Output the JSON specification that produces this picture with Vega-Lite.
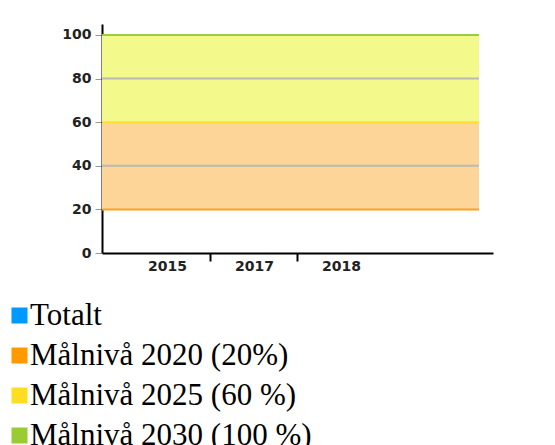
{
  "$schema": "https://vega.github.io/schema/vega-lite/v6.json",
  "width": 377,
  "height": 229,
  "autosize": {"type": "none"},
  "padding": {"left": 102, "top": 24, "right": 76, "bottom": 192},
  "background": "white",
  "config": {"view": {"stroke": null}, "font": "DejaVu Sans"},
  "datasets": {
    "maal": [
      {"serie": "Målnivå 2020 (20%)", "niva": 20, "ovre": 60},
      {"serie": "Målnivå 2025 (60 %)", "niva": 60, "ovre": 100},
      {"serie": "Målnivå 2030 (100 %)", "niva": 100, "ovre": null}
    ],
    "totalt": [
      {"ar": "2015", "serie": "Totalt", "varde": null},
      {"ar": "2017", "serie": "Totalt", "varde": null},
      {"ar": "2018", "serie": "Totalt", "varde": null}
    ]
  },
  "layer": [
    {
      "data": {"name": "maal"},
      "transform": [{"filter": "datum.ovre != null"}],
      "mark": {"type": "rect"},
      "encoding": {
        "y": {
          "field": "niva",
          "type": "quantitative",
          "scale": {"domain": [0, 105], "nice": false, "zero": true},
          "axis": {
            "values": [0, 20, 40, 60, 80, 100],
            "title": null,
            "domainColor": "black",
            "domainWidth": 2,
            "tickColor": "#999999",
            "tickSize": 7,
            "tickWidth": 1,
            "labelFont": "DejaVu Sans",
            "labelFontWeight": "bold",
            "labelFontSize": 14,
            "labelColor": "#222222",
            "labelPadding": 4,
            "grid": false
          }
        },
        "y2": {"field": "ovre"},
        "fill": {
          "field": "serie",
          "type": "nominal",
          "scale": {"domain": ["Målnivå 2020 (20%)", "Målnivå 2025 (60 %)"], "range": ["#fdd598", "#f4f98c"]},
          "legend": null
        }
      }
    },
    {
      "data": {"values": [{}]},
      "mark": {"type": "rule", "strokeWidth": 2, "color": "#b9b9b9"},
      "encoding": {"y": {"datum": 40, "type": "quantitative"}}
    },
    {
      "data": {"values": [{}]},
      "mark": {"type": "rule", "strokeWidth": 2, "color": "#b9b9b9"},
      "encoding": {"y": {"datum": 80, "type": "quantitative"}}
    },
    {
      "data": {"name": "maal"},
      "mark": {"type": "rule", "strokeWidth": 2},
      "encoding": {
        "y": {"field": "niva", "type": "quantitative"},
        "stroke": {
          "field": "serie",
          "type": "nominal",
          "scale": {"domain": ["Målnivå 2020 (20%)", "Målnivå 2025 (60 %)", "Målnivå 2030 (100 %)"], "range": ["#ffa020", "#ffdd33", "#99cc44"]},
          "legend": null
        }
      }
    },
    {
      "data": {"name": "totalt"},
      "mark": {"type": "bar"},
      "encoding": {
        "x": {
          "field": "ar",
          "type": "nominal",
          "scale": {"domain": ["2015", "2017", "2018"], "range": [0, 391], "paddingInner": 0, "paddingOuter": 0.747, "align": 0.169},
          "axis": {
            "title": null,
            "labelAngle": 0,
            "domainColor": "black",
            "domainWidth": 2,
            "bandPosition": 0,
            "tickColor": "black",
            "tickWidth": 2,
            "tickSize": 8,
            "tickOpacity": {"condition": {"test": "datum.value == '2015'", "value": 0}, "value": 1},
            "labelFont": "DejaVu Sans",
            "labelFontWeight": "bold",
            "labelFontSize": 14,
            "labelColor": "#222222",
            "labelPadding": -2,
            "grid": false
          }
        },
        "y": {"field": "varde", "type": "quantitative"},
        "color": {
          "field": "serie",
          "type": "nominal",
          "scale": {
            "domain": ["Totalt", "Målnivå 2020 (20%)", "Målnivå 2025 (60 %)", "Målnivå 2030 (100 %)"],
            "range": ["#0099ff", "#ff9900", "#ffdd22", "#99cc33"]
          },
          "legend": {
            "orient": "none",
            "legendX": -98,
            "legendY": 276,
            "padding": 0,
            "title": null,
            "symbolType": "square",
            "symbolSize": 256,
            "symbolStrokeWidth": 0,
            "symbolOpacity": 1,
            "labelFont": "Liberation Serif",
            "labelFontSize": 31,
            "labelColor": "black",
            "labelOffset": -5,
            "rowPadding": 8,
            "labelLimit": 0
          }
        }
      }
    }
  ]
}
